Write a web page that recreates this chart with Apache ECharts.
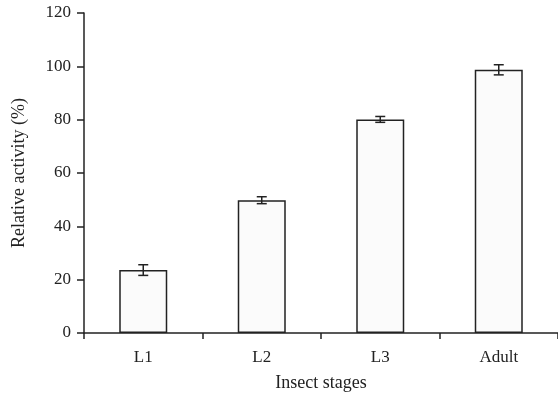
<!DOCTYPE html>
<html><head><meta charset="utf-8">
<script src="https://cdn.jsdelivr.net/npm/echarts@6/dist/echarts.min.js"></script>
<style>html,body{margin:0;padding:0;background:#fff}#c{width:558px;height:396px}</style>
</head><body><div id="c"></div>
<script>
const categories = ['L1', 'L2', 'L3', 'Adult'];
const activity = [23.6, 49.8, 80.1, 98.7];
const errors = [2.0, 1.3, 1.1, 1.9];
const yTicks = [0, 20, 40, 60, 80, 100, 120];

const font = 'Liberation Serif, Times New Roman, serif';
const chart = echarts.init(document.getElementById('c'), null, {renderer: 'canvas'});
chart.setOption({
  animation: false,
  grid: {left: 84, right: 0, top: 13, bottom: 63, containLabel: false, outerBoundsMode: 'none'},
  xAxis: {
    type: 'category', data: categories,
    name: 'Insect stages', nameLocation: 'middle', nameGap: 41,
    nameTextStyle: {fontFamily: font, fontSize: 18, color: '#222'},
    axisLine: {lineStyle: {color: '#222', width: 1.5}},
    axisTick: {show: true, length: 6, lineStyle: {color: '#222', width: 1.5}},
    axisLabel: {fontFamily: font, fontSize: 17, color: '#222', margin: 16}
  },
  yAxis: {
    type: 'value', min: yTicks[0], max: yTicks[yTicks.length - 1], interval: 20,
    name: 'Relative activity (%)', nameLocation: 'middle', nameGap: 56,
    nameTextStyle: {fontFamily: font, fontSize: 18, color: '#222'},
    axisLine: {show: true, lineStyle: {color: '#222', width: 1.5}},
    axisTick: {show: true, length: 7, lineStyle: {color: '#222', width: 1.5}},
    axisLabel: {fontFamily: font, fontSize: 17, color: '#222', margin: 13},
    splitLine: {show: false}
  },
  series: [
    {
      type: 'bar', data: activity, barWidth: 48,
      itemStyle: {color: '#fbfbfb', borderColor: '#222', borderWidth: 1.5}
    },
    {
      type: 'custom',
      data: activity.map((v, i) => [i, v - errors[i], v + errors[i]]),
      renderItem: function (params, api) {
        const lo = api.coord([api.value(0), api.value(1)]);
        const hi = api.coord([api.value(0), api.value(2)]);
        const w = 5;
        const st = {stroke: '#222', lineWidth: 1.5};
        return {type: 'group', children: [
          {type: 'line', shape: {x1: lo[0], y1: lo[1], x2: hi[0], y2: hi[1]}, style: st},
          {type: 'line', shape: {x1: lo[0] - w, y1: lo[1], x2: lo[0] + w, y2: lo[1]}, style: st},
          {type: 'line', shape: {x1: hi[0] - w, y1: hi[1], x2: hi[0] + w, y2: hi[1]}, style: st}
        ]};
      },
      z: 5
    }
  ]
});
</script></body></html>
